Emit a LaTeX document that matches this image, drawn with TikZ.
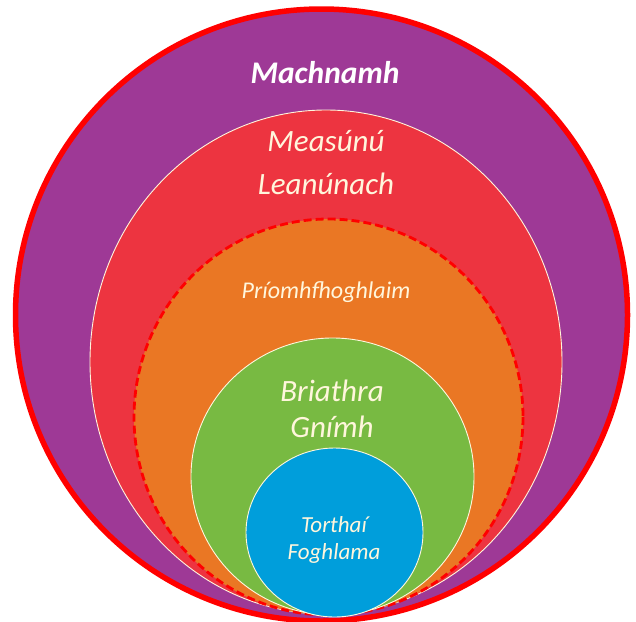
\documentclass[tikz,border=0pt]{standalone}
\usepackage{fontspec}
\setmainfont{Carlito}
\usepackage{tikz}
\definecolor{ringpurple}{RGB}{158,57,150}
\definecolor{ringred}{RGB}{237,52,64}
\definecolor{ringorange}{RGB}{234,119,36}
\definecolor{ringgreen}{RGB}{120,186,66}
\definecolor{ringblue}{RGB}{0,158,219}
\definecolor{cream}{RGB}{255,246,220}
\tikzstyle{outerring}=[fill=ringpurple,draw=red,line width=5.5pt]
\tikzstyle{thinring}=[draw=cream,line width=0.9pt]
\tikzstyle{dashring}=[fill=ringorange,draw=red,line width=2.8pt,
                      dash pattern=on 8pt off 4pt]
\tikzstyle{ringlabel}=[text=cream,font=\itshape,align=center,
                       inner sep=0pt]

\begin{document}
\begin{tikzpicture}[x=1pt,y=-1pt]
    \useasboundingbox (0,0) rectangle (636,621);
    \newcommand{\lh}{43}
    % rings, outside in
    \draw[outerring] (321.5,315) ellipse [x radius=306, y radius=306];
    \draw[thinring,fill=ringred] (326,362) ellipse [x radius=236, y radius=252];
    \draw[dashring] (328.5,417) ellipse [x radius=194.5, y radius=198];
    \draw[thinring,fill=ringgreen] (332.5,476.5) ellipse [x radius=141.5, y radius=138.5];
    \draw[thinring,fill=ringblue] (334.5,532.5) ellipse [x radius=88.5, y radius=84.5];
    % labels
    \node (mach) at (325,73) [ringlabel,text=white,font=\bfseries\itshape\fontsize{31.5}{36}\selectfont]{Machnamh};
    \node (meas) at (326,141) [ringlabel,font=\itshape\fontsize{31}{36}\selectfont]{Measúnú};
    \node (lean) at (326,141+\lh) [ringlabel,font=\itshape\fontsize{31}{36}\selectfont]{Leanúnach};
    \node (priomh) at (326,292) [ringlabel,font=\itshape\fontsize{24}{28}\selectfont]{Príomhfhoghlaim};
    \node (briathra) at (332,391) [ringlabel,font=\itshape\fontsize{31}{36}\selectfont]{Briathra};
    \node (gnimh) at (332,391+36) [ringlabel,font=\itshape\fontsize{31}{36}\selectfont]{Gnímh};
    \node (torthai) at (334,525) [ringlabel,font=\itshape\fontsize{23}{28}\selectfont]{Torthaí};
    \node (foghlama) at (334,553) [ringlabel,font=\itshape\fontsize{23}{28}\selectfont]{Foghlama};
  \end{tikzpicture}
\end{document}
